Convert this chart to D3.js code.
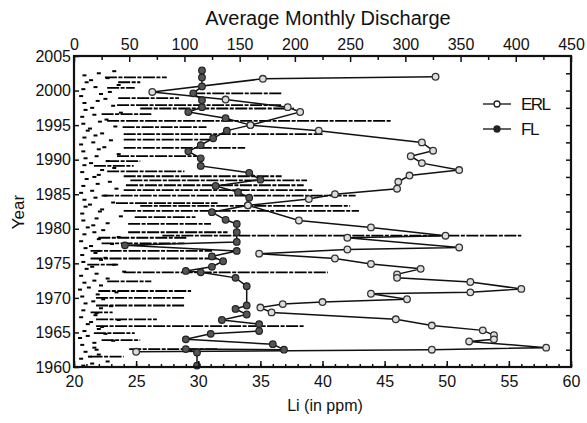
<!doctype html>
<html>
<head>
<meta charset="utf-8">
<title>Average Monthly Discharge</title>
<style>
  body { margin: 0; background: #fff; }
  svg text { font-family: "Liberation Sans", Arial, sans-serif; fill: #111; }
</style>
</head>
<body>
<div id="here"></div>
<script src="https://d3js.org/d3.v7.min.js"></script>
<script>
var w = 587, h = 423;

// Li series (year, ppm)
var erlYear = [2002.0, 2001.7, 1999.8, 1998.7, 1997.6, 1996.9, 1995.0, 1994.2, 1992.5, 1991.3, 1990.5, 1989.5, 1988.5, 1987.7, 1986.8, 1985.8, 1985.0, 1984.3, 1983.4, 1981.2, 1980.2, 1979.0, 1978.7, 1977.3, 1977.0, 1976.4, 1975.7, 1974.9, 1974.2, 1973.4, 1972.9, 1972.3, 1971.3, 1970.8, 1970.6, 1969.8, 1969.4, 1969.1, 1968.6, 1967.9, 1966.9, 1966.0, 1965.3, 1964.6, 1964.0, 1963.7, 1962.8, 1962.5, 1962.2];
var erlLi = [49.1, 35.2, 26.3, 32.2, 37.2, 38.2, 34.2, 39.7, 48.0, 48.9, 47.1, 48.0, 51.0, 47.0, 46.1, 46.0, 41.0, 38.9, 34.0, 38.1, 43.9, 49.9, 42.0, 51.0, 42.0, 34.9, 41.0, 43.9, 47.9, 46.0, 46.0, 51.9, 56.0, 51.9, 43.9, 46.8, 40.0, 36.8, 35.0, 35.9, 45.9, 48.8, 52.9, 53.8, 53.8, 51.8, 58.0, 48.8, 25.0];

var flYear = [2002.9, 2001.9, 2000.6, 1999.6, 1998.6, 1997.6, 1996.9, 1996.0, 1995.0, 1994.2, 1993.1, 1992.1, 1991.2, 1990.2, 1989.1, 1988.1, 1987.1, 1986.2, 1985.3, 1984.5, 1983.4, 1982.4, 1981.3, 1980.7, 1979.5, 1978.1, 1977.6, 1976.8, 1976.0, 1975.3, 1974.5, 1973.9, 1973.7, 1972.9, 1971.7, 1968.9, 1968.4, 1967.6, 1966.8, 1966.2, 1965.2, 1964.8, 1964.0, 1963.3, 1962.5, 1962.6, 1962.1, 1960.2];
var flLi = [30.3, 30.3, 30.3, 29.6, 30.3, 30.3, 29.2, 32.2, 34.2, 32.3, 31.2, 30.2, 29.2, 30.2, 30.2, 34.1, 35.0, 31.4, 33.2, 34.1, 34.0, 31.1, 32.2, 33.1, 33.1, 33.1, 24.1, 33.1, 31.1, 32.0, 31.1, 29.0, 30.2, 33.0, 33.9, 33.9, 33.0, 33.9, 31.9, 34.9, 34.9, 31.0, 29.0, 36.0, 36.9, 29.0, 29.9, 29.9];

// monthly discharge runs (dashed bars): year, from, to
var qYear = [2001.9, 2001.2, 2000.4, 1999.6, 1998.9, 1997.9, 1997.4, 1996.6, 1995.6, 1994.7, 1993.7, 1992.9, 1991.7, 1990.5, 1989.8, 1989.1, 1988.3, 1987.6, 1987.0, 1986.3, 1985.6, 1984.8, 1983.7, 1983.3, 1982.6, 1981.7, 1980.7, 1979.5, 1979.0, 1978.7, 1977.9, 1976.8, 1975.7, 1974.8, 1973.7, 1972.4, 1971.0, 1970.0, 1968.9, 1967.9, 1966.9, 1965.9, 1964.9, 1963.9, 1962.6, 1961.5];
var qFrom = [28, 40, 30, 108, 40, 39, 60, 25, 30, 44, 45, 45, 45, 39, 30, 18, 30, 45, 51, 47, 45, 25, 38, 60, 45, 55, 49, 49, 80, 22, 25, 15, 15, 12, 45, 30, 22, 20, 20, 15, 20, 20, 18, 25, 50, 15];
var qTo = [84, 60, 55, 189, 95, 188, 199, 70, 287, 120, 225, 125, 155, 111, 60, 54, 100, 188, 211, 208, 217, 255, 130, 250, 258, 110, 124, 139, 405, 102, 100, 125, 130, 40, 230, 70, 106, 100, 100, 35, 75, 208, 55, 60, 130, 45];

// low-flow months, three per year
var lowYear = d3.range(1960, 2003);
var lowA = [8,6,10,7,5,9,12,6,8,10,7,5,9,6,11,8,7,10,6,9,12,8,7,10,9,6,8,11,7,9,10,8,6,9,12,8,7,10,9,6,8,11,9];
var lowC = [16,14,20,18,12,22,15,19,24,17,21,13,18,20,16,24,19,15,22,18,17,20,23,14,19,16,21,18,25,15,20,22,17,19,14,23,18,16,21,24,19,15,22];
var lowB = [30,22,18,35,28,25,40,20,33,26,38,24,30,45,36,28,22,34,40,26,30,42,25,35,28,38,32,22,36,30,40,27,33,25,37,29,42,35,28,32,40,30,36];

var liTicks = [20, 25, 30, 35, 40, 45, 50, 55, 60];
var qTicks = [0, 50, 100, 150, 200, 250, 300, 350, 400, 450];
var yearTicks = [1960, 1965, 1970, 1975, 1980, 1985, 1990, 1995, 2000, 2005];

var x = d3.scaleLinear().domain([20, 60]).range([74, 571]);
var xq = d3.scaleLinear().domain([0, 450]).range([74, 571]);
var y = d3.scaleLinear().domain([1960, 2005]).range([367, 56]);

var svg = d3.select("#here").append("svg")
  .attr("width", w)
  .attr("height", h)
  .style("background", "#fff");

// discharge bars
svg.append("g").selectAll("line")
  .data(qYear)
  .enter().append("line")
  .attr("x1", function(d, i) { return xq(qFrom[i]); })
  .attr("x2", function(d, i) { return xq(qTo[i]); })
  .attr("y1", function(d) { return y(d); })
  .attr("y2", function(d) { return y(d); })
  .attr("stroke", "#000")
  .attr("stroke-width", 1.8)
  .attr("stroke-dasharray", "12,1.5,4,1.5");

var lows = svg.append("g").attr("fill", "#000");
[[lowA, 0.2], [lowC, 0.5], [lowB, 0.8]].forEach(function(set) {
  lows.selectAll(null)
    .data(lowYear)
    .enter().append("rect")
    .attr("x", function(d, i) { return xq(set[0][i]) - 1.5; })
    .attr("y", function(d) { return y(d + set[1]) - 1; })
    .attr("width", 4)
    .attr("height", 2);
});

// Li lines
var line = d3.line()
  .x(function(d) { return x(d[1]); })
  .y(function(d) { return y(d[0]); });

var erl = d3.zip(erlYear, erlLi);
var fl = d3.zip(flYear, flLi);

svg.append("path").datum(fl)
  .attr("d", line).attr("fill", "none")
  .attr("stroke", "#111").attr("stroke-width", 1.5);
svg.append("path").datum(erl)
  .attr("d", line).attr("fill", "none")
  .attr("stroke", "#111").attr("stroke-width", 1.5);

svg.append("g").selectAll("circle")
  .data(fl).enter().append("circle")
  .attr("cx", function(d) { return x(d[1]); })
  .attr("cy", function(d) { return y(d[0]); })
  .attr("r", 3.3)
  .attr("fill", "#555").attr("stroke", "#222").attr("stroke-width", 1.2);
svg.append("g").selectAll("circle")
  .data(erl).enter().append("circle")
  .attr("cx", function(d) { return x(d[1]); })
  .attr("cy", function(d) { return y(d[0]); })
  .attr("r", 3.3)
  .attr("fill", "#ddd").attr("stroke", "#333").attr("stroke-width", 1.3);

// axes, ticks point inward
function clean(g) {
  g.select(".domain").remove();
  g.selectAll("line").attr("stroke", "#111").attr("stroke-width", 1.5);
  g.selectAll("text").style("font-size", "16px").attr("fill", "#111");
}

svg.append("g").attr("transform", "translate(0,367)")
  .call(d3.axisBottom(x).ticks(40).tickSize(-3).tickFormat("")).call(clean);
svg.append("g").attr("transform", "translate(0,367)")
  .call(d3.axisBottom(x).tickValues(liTicks).tickSize(-6).tickPadding(9)).call(clean);

svg.append("g").attr("transform", "translate(0,56)")
  .call(d3.axisTop(xq).tickValues(d3.range(25, 450, 50)).tickSize(-4).tickFormat("")).call(clean);
svg.append("g").attr("transform", "translate(0,56)")
  .call(d3.axisTop(xq).tickValues(qTicks).tickSize(-6).tickPadding(6)).call(clean);

svg.append("g").attr("transform", "translate(74,0)")
  .call(d3.axisLeft(y).tickValues(yearTicks).tickSize(-5).tickPadding(3).tickFormat(d3.format("d"))).call(clean);

svg.append("g").attr("transform", "translate(571,0)")
  .call(d3.axisRight(y).tickValues(d3.range(1962.5, 2005, 2.5)).tickSize(-5).tickFormat("")).call(clean);

svg.append("rect")
  .attr("x", 74).attr("y", 56)
  .attr("width", 571 - 74).attr("height", 367 - 56)
  .attr("fill", "none").attr("stroke", "#111").attr("stroke-width", 2.2);

// titles
svg.append("text")
  .attr("x", 328).attr("y", 25)
  .attr("text-anchor", "middle")
  .style("font-size", "20px")
  .text("Average Monthly Discharge");

svg.append("text")
  .attr("x", 325).attr("y", 411)
  .attr("text-anchor", "middle")
  .style("font-size", "16px")
  .text("Li (in ppm)");

svg.append("text")
  .attr("transform", "translate(24,212) rotate(-90)")
  .attr("text-anchor", "middle")
  .style("font-size", "17px")
  .text("Year");

// legend
var legend = [{name: "ERL", fill: "#fff", y: 104}, {name: "FL", fill: "#222", y: 129}];
var lg = svg.append("g").selectAll("g").data(legend).enter().append("g");
lg.append("line")
  .attr("x1", 483).attr("x2", 511)
  .attr("y1", function(d) { return d.y; }).attr("y2", function(d) { return d.y; })
  .attr("stroke", "#222").attr("stroke-width", 1.4);
lg.append("circle")
  .attr("cx", 497).attr("cy", function(d) { return d.y; }).attr("r", 3)
  .attr("fill", function(d) { return d.fill; })
  .attr("stroke", "#222").attr("stroke-width", 1.3);
lg.append("text")
  .attr("x", 521).attr("y", function(d) { return d.y + 6; })
  .style("font-size", "17px")
  .style("letter-spacing", "-1.5px")
  .text(function(d) { return d.name; });
</script>
</body>
</html>
